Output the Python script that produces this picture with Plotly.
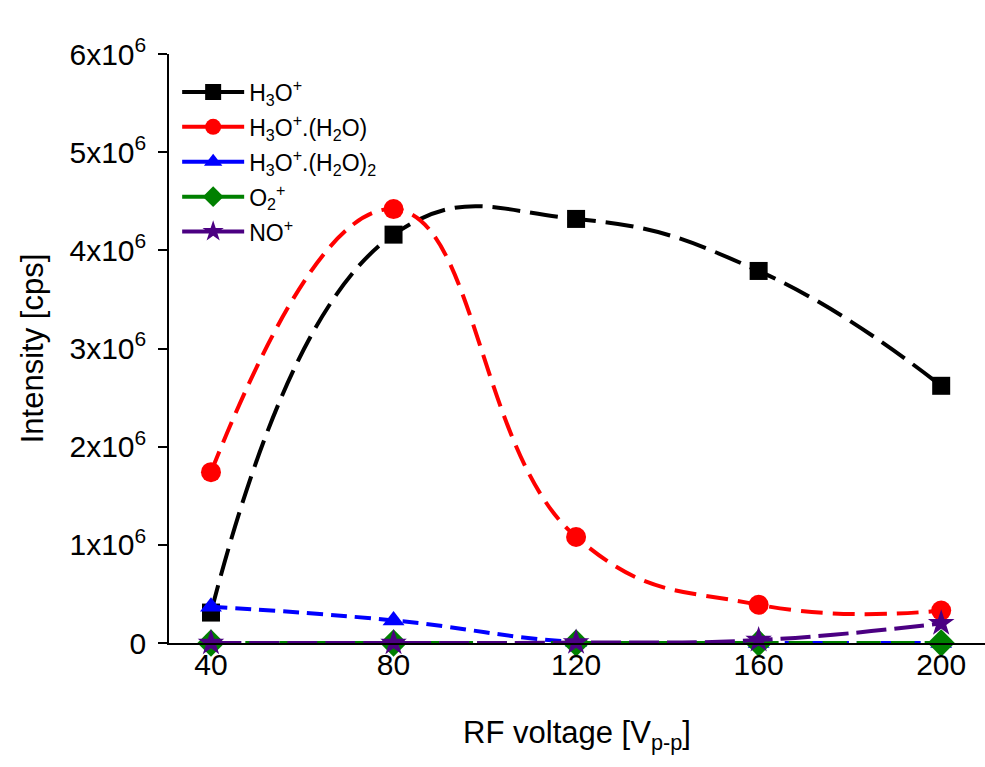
import plotly.graph_objects as go

# RF voltage settings (V p-p)
voltage = [40, 80, 120, 160, 200]

# Ion intensities in counts per second
h3o = [0.31e6, 4.16e6, 4.32e6, 3.79e6, 2.62e6]
h3o_h2o = [1.74e6, 4.42e6, 1.08e6, 0.39e6, 0.33e6]
h3o_h2o2 = [0.37e6, 0.23e6, 0.01e6, 0.0, 0.0]
o2 = [0.0, 0.0, 0.0, 0.0, 0.0]
no = [0.0, 0.0, 0.005e6, 0.03e6, 0.2e6]

series_names = [
    "H<sub>3</sub>O<sup>+</sup>",
    "H<sub>3</sub>O<sup>+</sup>.(H<sub>2</sub>O)",
    "H<sub>3</sub>O<sup>+</sup>.(H<sub>2</sub>O)<sub>2</sub>",
    "O<sub>2</sub><sup>+</sup>",
    "NO<sup>+</sup>",
]

y_tickvals = [0, 1e6, 2e6, 3e6, 4e6, 5e6, 6e6]
y_ticktext = ["0"] + [f"{i}x10<sup>6</sup>" for i in range(1, 7)]
x_tickvals = [40, 80, 120, 160, 200]

FONT = "Liberation Sans, Arial, sans-serif"

styles = [
    dict(y=h3o, color="#000000", symbol="square", size=18, dash="28px,10px"),
    dict(y=h3o_h2o, color="#ff0000", symbol="circle", size=20, dash="22px,10px"),
    dict(y=h3o_h2o2, color="#0000ff", symbol="triangle-up", size=19, dash="16px,8px"),
    dict(y=o2, color="#008000", symbol="diamond", size=21, dash="24px,10px"),
    dict(y=no, color="#4b0082", symbol="star", size=20, dash="30px,8px"),
]

fig = go.Figure()
for i, (name, s) in enumerate(zip(series_names, styles)):
    # dashed spline through the measured points
    fig.add_trace(go.Scatter(
        x=voltage, y=s["y"], name=name, mode="lines+markers", legendgroup=f"g{i}",
        showlegend=False,
        line=dict(color=s["color"], width=4, dash=s["dash"], shape="spline", smoothing=1.3),
        marker=dict(symbol=s["symbol"], size=s["size"], color=s["color"]),
        cliponaxis=False,
    ))
    # legend key drawn with a solid line
    fig.add_trace(go.Scatter(
        x=[None], y=[None], name=name, mode="lines+markers", legendgroup=f"g{i}",
        showlegend=True,
        line=dict(color=s["color"], width=4),
        marker=dict(symbol=s["symbol"], size=s["size"], color=s["color"]),
    ))

fig.update_layout(
    width=985, height=767,
    margin=dict(l=169, r=0, t=54, b=124),
    paper_bgcolor="white", plot_bgcolor="white",
    font=dict(family=FONT, color="black"),
    showlegend=True,
    legend=dict(
        x=0.01, y=0.972, xanchor="left", yanchor="top",
        bgcolor="rgba(0,0,0,0)", font=dict(size=23, family=FONT),
        itemwidth=62, tracegroupgap=2,
    ),
    xaxis=dict(
        range=[30.8, 209.6], tickvals=x_tickvals, ticks="",
        showline=True, linecolor="black", linewidth=1.5, showgrid=False, zeroline=False,
        tickfont=dict(size=30, family=FONT), ticklabelstandoff=-6,
        title=dict(text="RF voltage [V<sub>p-p</sub>]", font=dict(size=31, family=FONT), standoff=42),
        automargin=False,
    ),
    yaxis=dict(
        range=[0, 6e6], tickvals=y_tickvals, ticktext=y_ticktext,
        ticks="outside", ticklen=9, tickwidth=1.5, tickcolor="black",
        showline=True, linecolor="black", linewidth=1.5, showgrid=False, zeroline=False,
        tickfont=dict(size=30, family=FONT), ticklabelstandoff=6,
        title=dict(text="Intensity [cps]", font=dict(size=31, family=FONT), standoff=17),
        automargin=False,
    ),
)

fig.write_html("out.html")
